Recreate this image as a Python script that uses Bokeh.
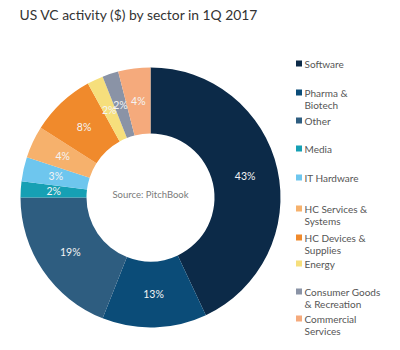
import numpy as np
from bokeh.plotting import figure
from bokeh.models import Range1d, ColumnDataSource
from bokeh.core.properties import value
from bokeh.embed import file_html
from bokeh.resources import INLINE

# ---- data ----
sectors = ["Software", "Pharma & Biotech", "Other", "Media", "IT Hardware",
           "HC Services & Systems", "HC Devices & Supplies", "Energy",
           "Consumer Goods & Recreation", "Commercial Services"]
shares = [43, 13, 19, 2, 3, 4, 8, 2, 2, 4]
legend_lines = [["Software"], ["Pharma &", "Biotech"], ["Other"], ["Media"], ["IT Hardware"],
                ["HC Services &", "Systems"], ["HC Devices &", "Supplies"], ["Energy"],
                ["Consumer Goods", "& Recreation"], ["Commercial", "Services"]]
colors = ["#0c2a48", "#0b4c78", "#2e5d80", "#16a0b4", "#6ec6ee",
          "#f6b16c", "#f08a2c", "#f6df7c", "#8a93a6", "#f5aa7c"]

W, H = 400, 350
def Y(y):
    return H - y

p = figure(width=W, height=H, output_backend="svg", toolbar_location=None,
           x_range=Range1d(0, W), y_range=Range1d(0, H),
           x_axis_location=None, y_axis_location=None, min_border=0)
p.grid.visible = False
p.outline_line_color = None
p.background_fill_color = "white"

cx, cy = 150, Y(197)
r_in, r_out = 64, 130

frac = np.array(shares, dtype=float) / sum(shares)
cum = np.concatenate([[0], np.cumsum(frac)])
start = np.pi / 2 - cum[:-1] * 2 * np.pi
end = np.pi / 2 - cum[1:] * 2 * np.pi
mid = (start + end) / 2

src = ColumnDataSource(dict(start=start, end=end, color=colors))
p.annular_wedge(x=cx, y=cy, inner_radius=r_in, outer_radius=r_out,
                start_angle="start", end_angle="end", direction="clock",
                fill_color="color", line_color=None, source=src)

r_lab = 97
lab = ColumnDataSource(dict(x=cx + r_lab * np.cos(mid), y=cy + r_lab * np.sin(mid),
                            t=[f"{s}%" for s in shares]))
p.text(x="x", y="y", text="t", source=lab, text_color="#f4f4f4",
       text_font=value("Lato"), text_font_size="10.5px", text_align="center",
       text_baseline="middle")

p.text(x=[cx], y=[Y(194)], text=["Source: PitchBook"], text_color="#7a7a7a",
       text_font=value("Lato"), text_font_size="9.5px", text_align="center",
       text_baseline="middle")

p.text(x=[19], y=[Y(14)], text=["US VC activity ($) by sector in 1Q 2017"],
       text_color="#333333", text_font=value("Lato"), text_font_size="10.4pt",
       text_align="left", text_baseline="middle")

# legend (manual)
leg_y = [63, 92, 120, 148, 177, 208, 237, 263, 291, 318]
line_h = 12
sq_x, sq_y, tx, ty, tt = [], [], [], [], []
for i, lines in enumerate(legend_lines):
    sq_x.append(298.5)
    sq_y.append(Y(leg_y[i]))
    for j, ln in enumerate(lines):
        tx.append(304)
        ty.append(Y(leg_y[i] + j * line_h))
        tt.append(ln)
p.rect(x=sq_x, y=sq_y, width=6, height=6, fill_color=colors, line_color=None)
p.text(x=tx, y=ty, text=tt, text_color="#555555", text_font=value("Lato"),
       text_font_size="7.5pt", text_align="left", text_baseline="middle")

open("out.html", "w").write(file_html(p, INLINE))
